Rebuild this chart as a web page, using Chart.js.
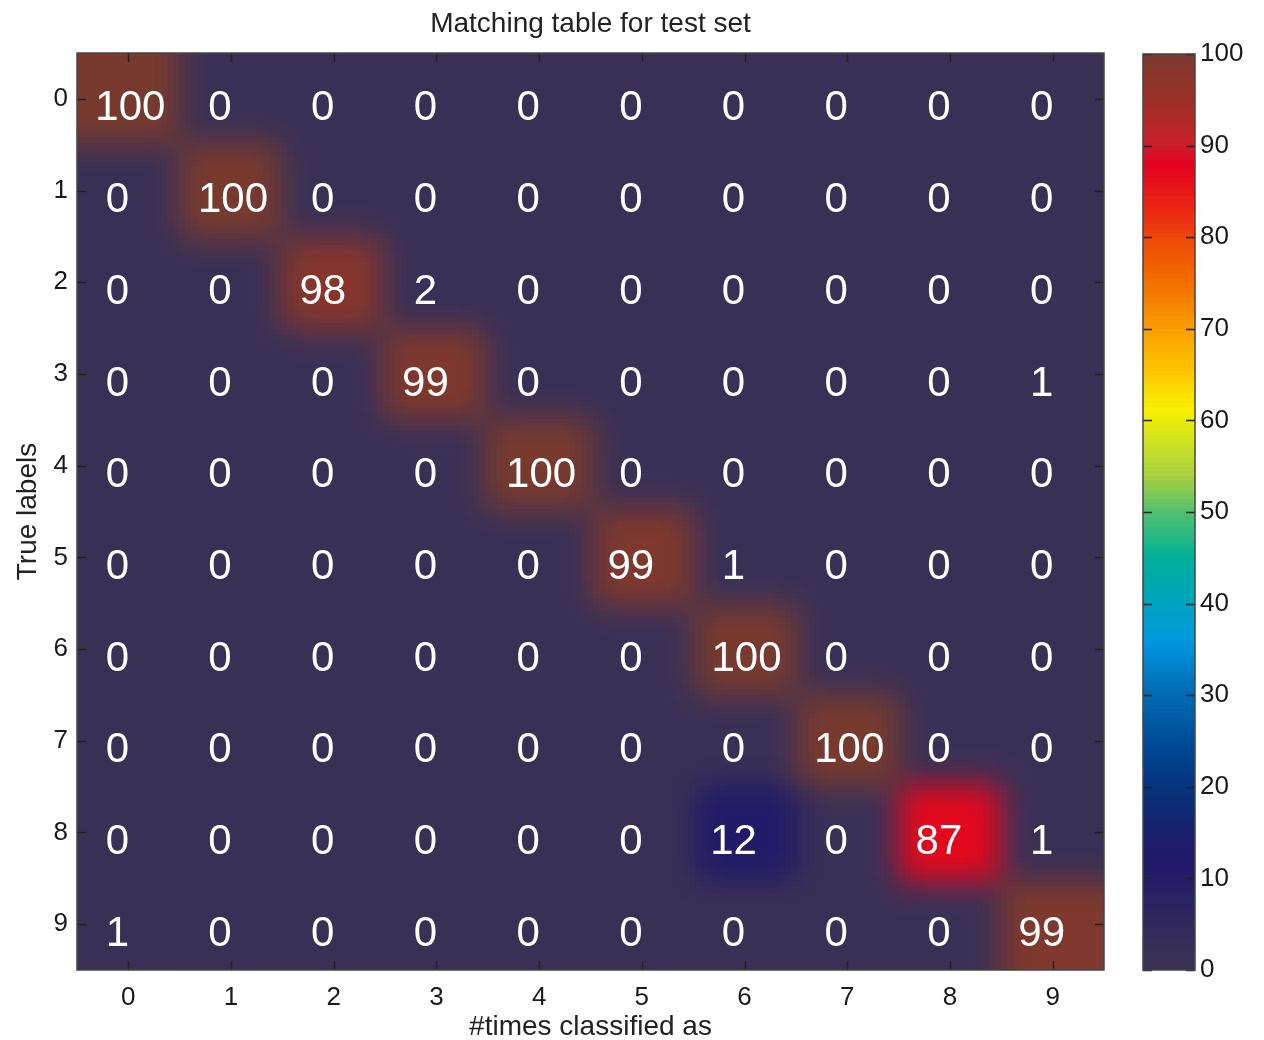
<!DOCTYPE html>
<html><head><meta charset="utf-8">
<script src="https://cdn.jsdelivr.net/npm/chart.js@4.4.1/dist/chart.umd.min.js"></script>
<style>
html,body{margin:0;padding:0;background:#fff;}
#wrap{position:relative;width:1264px;height:1040px;}
#main{position:absolute;left:0;top:0;}
#cbar{position:absolute;left:1130px;top:0;}
</style></head><body>
<div id="wrap"><canvas id="main" width="1130" height="1040"></canvas><canvas id="cbar" width="134" height="1040"></canvas></div>
<script>
// ---- data ----
const predictedLabels = ['0','1','2','3','4','5','6','7','8','9'];
const trueLabels = ['0','1','2','3','4','5','6','7','8','9'];
const row0 = [100,0,0,0,0,0,0,0,0,0];
const row1 = [0,100,0,0,0,0,0,0,0,0];
const row2 = [0,0,98,2,0,0,0,0,0,0];
const row3 = [0,0,0,99,0,0,0,0,0,1];
const row4 = [0,0,0,0,100,0,0,0,0,0];
const row5 = [0,0,0,0,0,99,1,0,0,0];
const row6 = [0,0,0,0,0,0,100,0,0,0];
const row7 = [0,0,0,0,0,0,0,100,0,0];
const row8 = [0,0,0,0,0,0,12,0,87,1];
const row9 = [1,0,0,0,0,0,0,0,0,99];
const matrix = [row0,row1,row2,row3,row4,row5,row6,row7,row8,row9];
const colorbarTicks = [0,10,20,30,40,50,60,70,80,90,100];
const titleText = 'Matching table for test set';
const xTitle = '#times classified as';
const yTitle = 'True labels';

// colormap stops (value, colour)
const cmapStops = [
 [0,'#3a3055'],[2,'#383056'],[5,'#32285c'],[8,'#2a2262'],[11,'#221a68'],[13,'#1e1a6a'],
 [16,'#14246e'],[19,'#083078'],[22,'#003c88'],[25,'#004c98'],[28,'#0060a8'],[31,'#0070b8'],
 [34,'#0088d0'],[36,'#0098dc'],[39,'#00a0c8'],[42,'#00a8b0'],[45,'#00b098'],[47,'#20b888'],
 [50,'#50c070'],[52,'#80c858'],[54,'#a8d040'],[57,'#c8e028'],[60,'#e8ec08'],[61,'#f8f000'],
 [63,'#f8e000'],[65,'#fcc800'],[68,'#fcb000'],[71,'#f89400'],[74,'#f47800'],[77,'#f06000'],
 [80,'#ee4808'],[82,'#ec3010'],[85,'#e81818'],[88,'#e4001e'],[90,'#cc1e2a'],[92,'#b82828'],
 [95,'#9c3028'],[100,'#783a2e']
];

function hexRgb(h){return [parseInt(h.substr(1,2),16),parseInt(h.substr(3,2),16),parseInt(h.substr(5,2),16)];}
const stopsRgb = cmapStops.map(s=>[s[0],hexRgb(s[1])]);
function cmap(v){
  v = Math.max(0,Math.min(100,v));
  for(let i=1;i<stopsRgb.length;i++){
    const [v1,c1]=stopsRgb[i], [v0,c0]=stopsRgb[i-1];
    if(v<=v1){
      const t=(v-v0)/(v1-v0||1);
      const c=c0.map((a,k)=>Math.round(a+(c1[k]-a)*t));
      return 'rgb('+c.join(',')+')';
    }
  }
  return cmapStops[cmapStops.length-1][1];
}

const FONT = "'Liberation Sans', Arial, Helvetica, sans-serif";
const TICKSIZE = 26, LABELSIZE = 28;
const points = [];
matrix.forEach((row,r)=>row.forEach((v,c)=>points.push({x:c,y:r,v:v})));

const heatPlugin = {
  id:'heat',
  beforeDatasetsDraw(chart){
    const {ctx, chartArea:a, scales:{x,y}} = chart;
    const f=6, m=10;
    const W=Math.ceil((a.right-a.left)/f), H=Math.ceil((a.bottom-a.top)/f);
    const src=document.createElement('canvas'); src.width=W+2*m; src.height=H+2*m;
    const s=src.getContext('2d');
    const nx=predictedLabels.length, ny=trueLabels.length;
    chart.data.datasets[0].data.forEach(p=>{
      let x0=Math.round((x.getPixelForValue(p.x-0.5)-a.left)/f)+m;
      let x1=Math.round((x.getPixelForValue(p.x+0.5)-a.left)/f)+m;
      let y0=Math.round((y.getPixelForValue(p.y-0.5)-a.top)/f)+m;
      let y1=Math.round((y.getPixelForValue(p.y+0.5)-a.top)/f)+m;
      if(p.x===0)x0=0; if(p.x===nx-1)x1=src.width;
      if(p.y===0)y0=0; if(p.y===ny-1)y1=src.height;
      s.fillStyle=cmap(p.v);
      s.fillRect(x0,y0,x1-x0,y1-y0);
    });
    const dst=document.createElement('canvas'); dst.width=src.width; dst.height=src.height;
    const d=dst.getContext('2d'); d.filter='blur(2.5px)'; d.drawImage(src,0,0);
    ctx.save();
    ctx.beginPath(); ctx.rect(a.left,a.top,a.right-a.left,a.bottom-a.top); ctx.clip();
    ctx.imageSmoothingEnabled=false;
    ctx.drawImage(dst,m,m,W,H,a.left,a.top,W*f,H*f);
    ctx.restore();
  },
  afterDatasetsDraw(chart){
    const {ctx, chartArea:a, scales:{x,y}} = chart;
    ctx.save();
    // cell values
    ctx.fillStyle='#ffffff'; ctx.font='42px '+FONT; ctx.textAlign='center'; ctx.textBaseline='middle';
    chart.data.datasets[0].data.forEach(p=>{
      const t=String(p.v);
      const dx = t.length>=3 ? 2 : -11;
      ctx.fillText(t, x.getPixelForValue(p.x)+dx, y.getPixelForValue(p.y)+10);
    });
    // inward ticks
    ctx.strokeStyle='#222'; ctx.lineWidth=1.5;
    ctx.beginPath();
    x.ticks.forEach(t=>{const px=Math.round(x.getPixelForValue(t.value))+0.5;
      ctx.moveTo(px,a.bottom); ctx.lineTo(px,a.bottom-9); ctx.moveTo(px,a.top); ctx.lineTo(px,a.top+9);});
    y.ticks.forEach(t=>{const py=Math.round(y.getPixelForValue(t.value))+0.5;
      ctx.moveTo(a.left,py); ctx.lineTo(a.left+9,py); ctx.moveTo(a.right,py); ctx.lineTo(a.right-9,py);});
    ctx.stroke();
    // frame
    ctx.strokeStyle='#444'; ctx.lineWidth=1.5;
    ctx.strokeRect(a.left,a.top,a.right-a.left,a.bottom-a.top);
    ctx.restore();
  }
};

new Chart(document.getElementById('main'),{
  type:'scatter',
  data:{datasets:[{data:points,pointRadius:0,pointHoverRadius:0}]},
  options:{
    responsive:false, animation:false, events:[],
    layout:{padding:{left:0,right:26,top:0,bottom:0}},
    plugins:{
      legend:{display:false}, tooltip:{enabled:false},
      title:{display:true,fullSize:false,text:titleText,color:'#222',font:{family:FONT,size:LABELSIZE,weight:'normal'},padding:{top:7.2,bottom:12.2}}
    },
    scales:{
      x:{type:'linear',min:-0.5,max:9.5,
        afterBuildTicks:s=>{s.ticks=predictedLabels.map((l,i)=>({value:i}));},
        afterFit:s=>{s.height=70;},
        grid:{display:false,drawTicks:false}, border:{display:false},
        ticks:{padding:15,color:'#1a1a1a',font:{family:FONT,size:TICKSIZE,lineHeight:1},callback:(v)=>predictedLabels[v]},
        title:{display:true,text:xTitle,color:'#222',font:{family:FONT,size:LABELSIZE,lineHeight:0.9},padding:{top:0,bottom:0}}
      },
      y:{type:'linear',min:-0.5,max:9.5,reverse:true,
        afterBuildTicks:s=>{s.ticks=trueLabels.map((l,i)=>({value:i}));},
        afterFit:s=>{s.width=77;},
        grid:{display:false,drawTicks:false}, border:{display:false},
        ticks:{padding:9,color:'#1a1a1a',font:{family:FONT,size:TICKSIZE},callback:(v)=>trueLabels[v]},
        title:{display:true,text:yTitle,color:'#222',font:{family:FONT,size:LABELSIZE,lineHeight:1},padding:{top:14,bottom:0}}
      }
    }
  },
  plugins:[heatPlugin]
});

const cbarPlugin = {
  id:'cbarfill',
  beforeDatasetsDraw(chart){
    const {ctx, chartArea:a, scales:{y}} = chart;
    ctx.save();
    const lo=colorbarTicks[0], hi=colorbarTicks[colorbarTicks.length-1];
    const step=0.5;
    for(let v=lo; v<hi; v+=step){
      const yb=y.getPixelForValue(v), yt=y.getPixelForValue(v+step);
      ctx.fillStyle=cmap(v+step/2);
      ctx.fillRect(a.left, Math.floor(yt), a.right-a.left, Math.ceil(yb)-Math.floor(yt));
    }
    ctx.strokeStyle='#222'; ctx.lineWidth=1.5;
    ctx.beginPath();
    y.ticks.forEach(t=>{const py=Math.round(y.getPixelForValue(t.value))+0.5;
      ctx.moveTo(a.left,py); ctx.lineTo(a.left+9,py); ctx.moveTo(a.right,py); ctx.lineTo(a.right-9,py);});
    ctx.stroke();
    ctx.strokeStyle='#444'; ctx.lineWidth=1.5;
    ctx.strokeRect(a.left,a.top,a.right-a.left,a.bottom-a.top);
    ctx.restore();
  }
};

new Chart(document.getElementById('cbar'),{
  type:'scatter',
  data:{datasets:[{data:colorbarTicks.map(v=>({x:0.5,y:v})),pointRadius:0,pointHoverRadius:0}]},
  options:{
    responsive:false, animation:false, events:[],
    layout:{padding:{left:13,right:0,top:54,bottom:70}},
    plugins:{legend:{display:false},tooltip:{enabled:false}},
    scales:{
      x:{display:false,min:0,max:1},
      y:{position:'right',min:0,max:100,
        afterBuildTicks:s=>{s.ticks=colorbarTicks.map(v=>({value:v}));},
        afterFit:s=>{s.width=69;},
        grid:{display:false,drawTicks:false}, border:{display:false},
        ticks:{padding:5,color:'#1a1a1a',font:{family:FONT,size:TICKSIZE}}
      }
    }
  },
  plugins:[cbarPlugin]
});
</script>
</body></html>
